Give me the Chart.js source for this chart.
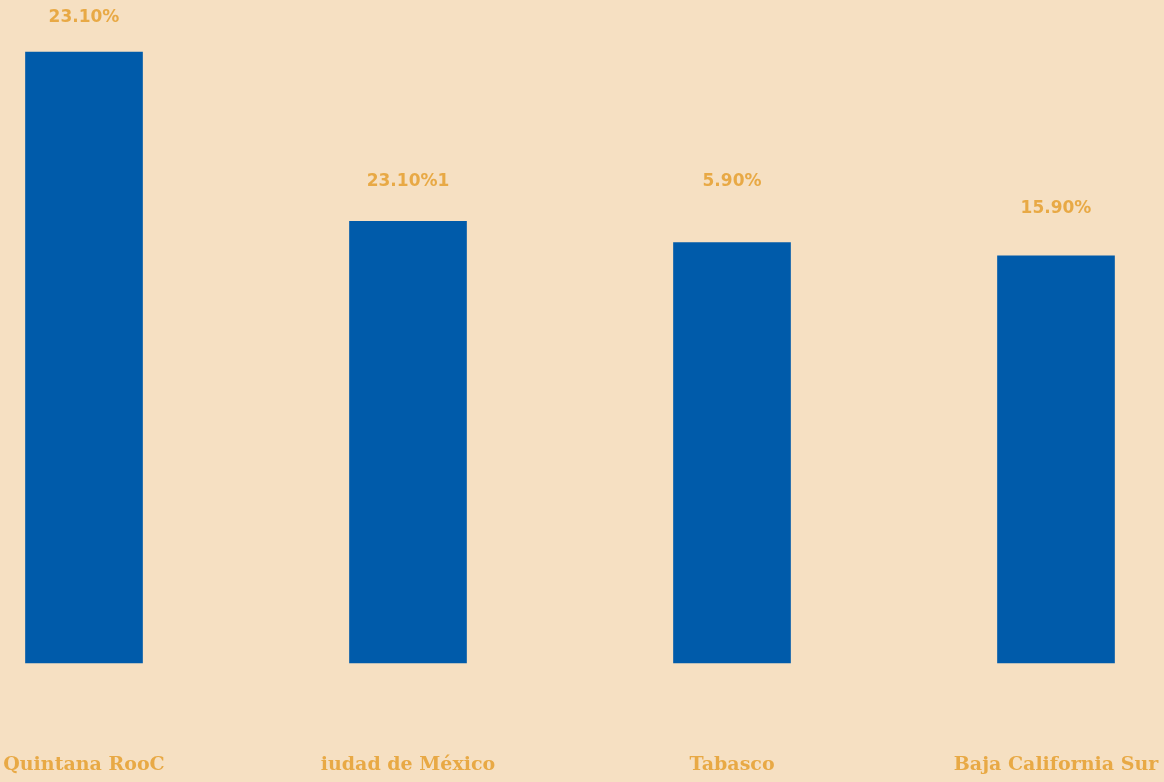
<!DOCTYPE html>
<html>
<head>
<meta charset="utf-8">
<script src="https://cdn.jsdelivr.net/npm/chart.js@4"></script>
<style>
  html, body { margin: 0; padding: 0; background: #F6E0C2; }
  #wrap { width: 1164px; height: 782px; }
</style>
</head>
<body>
<div id="wrap"><canvas id="c" width="1164" height="782"></canvas></div>
<script>
// Estados y porcentaje
const categories = ['Quintana RooC', 'iudad de México', 'Tabasco', 'Baja California Sur'];
const values = [23.1, 16.7, 15.9, 15.4];
// Etiquetas sobre cada barra y el nivel (en unidades del eje) donde se escriben
const valueLabels = ['23.10%', '23.10%1', '5.90%', '15.90%'];
const labelLevels = [24.4, 18.2, 18.2, 17.2];

const ORANGE = '#E8A945';
const BLUE = '#005BAA';

const valueLabelPlugin = {
  id: 'valueLabels',
  afterDatasetsDraw(chart) {
    const ctx = chart.ctx;
    const meta = chart.getDatasetMeta(0);
    const y = chart.scales.y;
    ctx.save();
    ctx.fillStyle = ORANGE;
    ctx.font = 'bold 17px "DejaVu Sans"';
    ctx.textAlign = 'center';
    ctx.textBaseline = 'middle';
    meta.data.forEach((bar, i) => {
      ctx.fillText(valueLabels[i], bar.x, y.getPixelForValue(labelLevels[i]));
    });
    ctx.restore();
  }
};

new Chart(document.getElementById('c'), {
  type: 'bar',
  data: {
    labels: categories,
    datasets: [{
      data: values,
      backgroundColor: BLUE,
      borderWidth: 0,
      barThickness: 117,
      clip: false
    }]
  },
  options: {
    responsive: false,
    animation: false,
    layout: { padding: { left: 84, right: 108, top: 0, bottom: 0 } },
    plugins: { legend: { display: false }, tooltip: { enabled: false } },
    scales: {
      x: {
        offset: false,
        grid: { display: false, drawTicks: false },
        border: { display: false },
        ticks: {
          color: ORANGE,
          font: { family: '"DejaVu Serif"', weight: 'bold', size: 19 },
          padding: 91,
          maxRotation: 0,
          autoSkip: false
        },
        afterFit(scale) {
          // fixed band under the bars; side space comes from layout padding
          scale.height = 119;
          scale.paddingLeft = 0;
          scale.paddingRight = 0;
        }
      },
      y: {
        display: false,
        min: 0,
        max: 25.07
      }
    }
  },
  plugins: [valueLabelPlugin]
});
</script>
</body>
</html>
